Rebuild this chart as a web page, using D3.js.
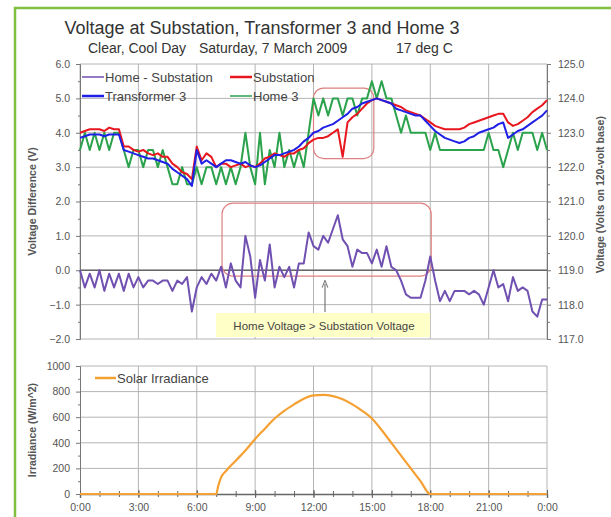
<!DOCTYPE html>
<html>
<head>
<meta charset="utf-8">
<script src="https://cdn.jsdelivr.net/npm/d3@7"></script>
<style>
  body { margin: 0; background: #fff; }
  svg text { font-family: "Liberation Sans", Arial, sans-serif; }
</style>
</head>
<body>
<div id="chart"></div>
<script>
// sample times, every 15 minutes from 0:00 to 24:00
const hours = d3.range(97).map(i => i / 4);

// Substation voltage (V, right axis)
const substation = [
  123.0, 123.05, 123.1, 123.1, 123.1, 123.05, 123.15, 123.1, 123.1, 122.6, 122.6, 122.5,
  122.45, 122.5, 122.4, 122.35, 122.4, 122.3, 122.3, 122.1, 122.0, 121.85, 121.8, 121.65,
  122.6, 122.2, 122.4, 122.3, 122.0, 122.1, 122.1, 122.0, 122.05, 122.1, 122.0, 122.05,
  122.0, 122.1, 122.25, 122.3, 122.4, 122.35, 122.3, 122.4, 122.4, 122.5, 122.55, 122.7,
  122.8, 122.85, 122.85, 122.9, 123.0, 123.1, 122.3, 123.3, 123.45, 123.55, 123.7, 123.85,
  123.95, 124.0, 123.95, 123.9, 123.85, 123.8, 123.75, 123.65, 123.6, 123.55, 123.5, 123.4,
  123.3, 123.2, 123.15, 123.1, 123.1, 123.1, 123.1, 123.15, 123.25, 123.3, 123.35, 123.4,
  123.45, 123.5, 123.55, 123.55, 123.3, 123.2, 123.25, 123.35, 123.45, 123.6, 123.7, 123.8,
  123.95
];

// Transformer 3 voltage (V, right axis)
const transformer = [
  122.85, 122.9, 122.95, 122.95, 122.95, 122.9, 122.95, 122.95, 122.95, 122.5, 122.45, 122.4,
  122.35, 122.3, 122.25, 122.25, 122.2, 122.15, 122.1, 121.95, 121.85, 121.75, 121.65, 121.45,
  122.5, 122.1, 122.2, 122.1, 122.0, 122.1, 122.2, 122.2, 122.15, 122.1, 122.15, 122.05,
  122.0, 122.05, 122.15, 122.25, 122.35, 122.35, 122.4, 122.45, 122.5, 122.6, 122.75, 122.85,
  123.0, 123.05, 123.15, 123.2, 123.25, 123.35, 123.45, 123.55, 123.7, 123.75, 123.85, 123.9,
  123.95, 124.0, 123.95, 123.9, 123.85, 123.7, 123.65, 123.6, 123.55, 123.5, 123.5, 123.35,
  123.2, 123.05, 122.95, 122.85, 122.8, 122.75, 122.7, 122.75, 122.85, 122.9, 123.0, 123.05,
  123.1, 123.15, 123.25, 123.3, 122.85, 122.95, 123.05, 123.1, 123.2, 123.3, 123.4, 123.5,
  123.65
];

// Home 3 voltage (V, right axis)
const home = [
  122.5, 123.0, 122.5, 123.0, 122.5, 123.0, 122.5, 123.0, 123.0, 122.5, 122.0, 122.5,
  122.5, 122.0, 122.5, 122.5, 122.0, 122.5, 122.0, 121.5, 121.5, 122.0, 121.5, 121.5,
  122.0, 121.5, 122.0, 122.0, 121.5, 122.0, 121.5, 122.0, 121.5, 122.0, 123.0, 122.0,
  121.5, 123.0, 121.5, 122.5, 122.0, 123.0, 122.0, 122.5, 122.0, 122.5, 122.0, 123.0,
  124.0, 123.5, 124.0, 123.5, 124.0, 124.0, 123.5, 124.0, 124.0, 123.5, 124.0, 124.0,
  124.5, 124.0, 124.5, 124.0, 124.0, 123.5, 123.0, 123.5, 123.0, 123.0, 123.0, 123.0,
  122.5, 123.0, 122.5, 122.5, 122.5, 122.5, 122.5, 122.5, 122.5, 122.5, 122.5, 122.5,
  123.0, 122.5, 122.5, 122.0, 122.5, 123.0, 122.5, 123.0, 123.0, 123.0, 122.5, 123.0,
  122.5
];

// Home - Substation (V, left axis)
const diff = [
  0.0, -0.5, -0.1, -0.5, 0.0, -0.6, -0.1, -0.5, -0.1, -0.6, -0.1, -0.5,
  -0.2, -0.5, -0.3, -0.3, -0.4, -0.3, -0.3, -0.6, -0.3, -0.4, -0.2, -1.2,
  -0.5, -0.2, -0.4, -0.1, -0.3, 0.1, -0.5, 0.2, -0.3, -0.5, 1.0, 0.4,
  -0.8, 0.3, -0.3, 0.75, -0.5, 0.1, -0.2, 0.1, -0.5, 0.2, 0.2, 1.1,
  0.7, 0.6, 1.0, 0.8, 1.2, 1.6, 0.9, 0.7, 0.1, 0.6, 0.5, 0.5,
  0.2, 0.6, 0.1, 0.7, 0.1, 0.0, -0.3, -0.7, -0.8, -0.8, -0.8, -0.3,
  0.4, -0.3, -0.9, -0.6, -0.9, -0.6, -0.6, -0.6, -0.7, -0.6, -0.7, -1.0,
  -0.5, 0.0, -0.5, -0.4, -0.9, -0.2, -0.6, -0.5, -0.6, -1.2, -1.35, -0.85,
  -0.85
];

// Solar irradiance (W/m^2)
const solarHours = [0, 7.0, 7.1, 7.25, 7.5, 8, 8.5, 9, 9.5, 10, 10.5, 11, 11.5, 12, 12.5,
  13, 13.5, 14, 14.5, 15, 15.5, 16, 16.5, 17, 17.5, 18, 24];
const solarValues = [0, 0, 60, 130, 180, 260, 340, 430, 510, 590, 650, 700, 745, 770, 775,
  765, 740, 700, 650, 590, 500, 400, 300, 200, 100, 0, 0];

const xTicks = [0, 3, 6, 9, 12, 15, 18, 21, 24];
const xTickLabels = ["0:00", "3:00", "6:00", "9:00", "12:00", "15:00", "18:00", "21:00", "0:00"];
const leftTicks = [-2, -1, 0, 1, 2, 3, 4, 5, 6];
const rightTicks = [117, 118, 119, 120, 121, 122, 123, 124, 125];
const solarTicks = [0, 200, 400, 600, 800, 1000];

const W = 611, H = 517;
const gridColor = "#b4b4b4";
const axisColor = "#777";
const textColor = "#555";
const tickFont = "10.5px";

const svg = d3.select("#chart").append("svg")
  .attr("width", W)
  .attr("height", H);

svg.append("rect").attr("width", W).attr("height", H).attr("fill", "#fff");

// green frame
svg.append("rect")
  .attr("x", 15).attr("y", 8)
  .attr("width", 700).attr("height", 600)
  .attr("fill", "none")
  .attr("stroke", "#80c040")
  .attr("stroke-width", 2.5);

const x = d3.scaleLinear().domain([0, 24]).range([80, 547]);
const yL = d3.scaleLinear().domain([-2, 6]).range([339, 64]);
const yR = d3.scaleLinear().domain([117, 125]).range([339, 64]);
const yS = d3.scaleLinear().domain([0, 1000]).range([494, 366]);

// titles
svg.append("text")
  .attr("x", 262).attr("y", 34)
  .attr("text-anchor", "middle")
  .attr("font-size", "18px")
  .attr("fill", "#333")
  .text("Voltage at Substation, Transformer 3 and Home 3");

const sub = svg.append("g").attr("font-size", "14px").attr("fill", "#333");
sub.append("text").attr("x", 88).attr("y", 53).text("Clear, Cool Day");
sub.append("text").attr("x", 199).attr("y", 53).text("Saturday, 7 March 2009");
sub.append("text").attr("x", 396).attr("y", 53).text("17 deg C");

// ---------- top chart ----------
const topG = svg.append("g");

// grid
topG.append("g").selectAll("line").data(leftTicks).join("line")
  .attr("x1", x(0)).attr("x2", x(24))
  .attr("y1", d => yL(d)).attr("y2", d => yL(d))
  .attr("stroke", gridColor).attr("stroke-width", 1);
topG.append("g").selectAll("line").data(xTicks).join("line")
  .attr("x1", d => x(d)).attr("x2", d => x(d))
  .attr("y1", yL(6)).attr("y2", yL(-2))
  .attr("stroke", gridColor).attr("stroke-width", 1);

// left axis
const leftAxis = d3.axisLeft(yL).tickValues(leftTicks).tickFormat(d3.format(".1f")).tickSize(4).tickPadding(6);
const gl = topG.append("g").attr("transform", `translate(${x(0)},0)`).call(leftAxis);
gl.select(".domain").attr("stroke", axisColor);
gl.selectAll(".tick line").attr("stroke", axisColor);
gl.selectAll("text").attr("fill", textColor).attr("font-size", tickFont)
  .attr("font-family", "Liberation Sans, Arial, sans-serif");
topG.append("g").attr("transform", `translate(${x(0)},0)`)
  .call(d3.axisLeft(yL).tickValues(d3.range(-1.5, 6, 1)).tickSize(2).tickFormat(""))
  .call(g => g.select(".domain").remove())
  .selectAll("line").attr("stroke", axisColor);

// right axis
const rightAxis = d3.axisRight(yR).tickValues(rightTicks).tickFormat(d3.format(".1f")).tickSize(4).tickPadding(7);
const gr = topG.append("g").attr("transform", `translate(${x(24)},0)`).call(rightAxis);
gr.select(".domain").attr("stroke", axisColor);
gr.selectAll(".tick line").attr("stroke", axisColor);
gr.selectAll("text").attr("fill", textColor).attr("font-size", tickFont)
  .attr("font-family", "Liberation Sans, Arial, sans-serif");
topG.append("g").attr("transform", `translate(${x(24)},0)`)
  .call(d3.axisRight(yR).tickValues(d3.range(117.5, 125, 1)).tickSize(3).tickFormat(""))
  .call(g => g.select(".domain").remove())
  .selectAll("line").attr("stroke", axisColor);

// zero axis
topG.append("line")
  .attr("x1", x(0)).attr("x2", x(24))
  .attr("y1", yL(0)).attr("y2", yL(0))
  .attr("stroke", "#666").attr("stroke-width", 1.6);

// axis titles
svg.append("text")
  .attr("transform", `translate(36,${yL(2)}) rotate(-90)`)
  .attr("text-anchor", "middle")
  .attr("font-size", "10.5px")
  .attr("font-weight", "bold")
  .attr("fill", "#555")
  .text("Voltage Difference (V)");
svg.append("text")
  .attr("transform", `translate(604,${yR(121.2)}) rotate(-90)`)
  .attr("text-anchor", "middle")
  .attr("font-size", "10.5px")
  .attr("font-weight", "bold")
  .attr("fill", "#555")
  .text("Voltage (Volts on 120-volt base)");

// annotation boxes
topG.append("rect")
  .attr("x", x(12)).attr("y", yR(124.3))
  .attr("width", x(15.1) - x(12)).attr("height", yR(122.25) - yR(124.3))
  .attr("rx", 10)
  .attr("fill", "none").attr("stroke", "#e08080").attr("stroke-width", 1.2);
topG.append("rect")
  .attr("x", x(7.3)).attr("y", yL(1.95))
  .attr("width", x(18.05) - x(7.3)).attr("height", yL(-0.17) - yL(1.95))
  .attr("rx", 11)
  .attr("fill", "none").attr("stroke", "#e08080").attr("stroke-width", 1.2);

// lines
const lineR = d3.line().x((d, i) => x(hours[i])).y(d => yR(d));
const lineL = d3.line().x((d, i) => x(hours[i])).y(d => yL(d));

const series = [
  { values: home, color: "#2ba24c", gen: lineR },
  { values: substation, color: "#e8161e", gen: lineR },
  { values: transformer, color: "#1f1fe6", gen: lineR },
  { values: diff, color: "#7050b0", gen: lineL }
];
topG.append("g").selectAll("path").data(series).join("path")
  .attr("d", d => d.gen(d.values))
  .attr("fill", "none")
  .attr("stroke", d => d.color)
  .attr("stroke-width", 2)
  .attr("stroke-linejoin", "round");

// callout
topG.append("rect")
  .attr("x", 216).attr("y", 313)
  .attr("width", 214).attr("height", 24)
  .attr("fill", "#ffffc8");
topG.append("text")
  .attr("x", 324).attr("y", 329.5)
  .attr("text-anchor", "middle")
  .attr("font-size", "11.5px")
  .attr("fill", "#444")
  .text("Home Voltage > Substation Voltage");
svg.append("defs").append("marker")
  .attr("id", "arrow")
  .attr("viewBox", "0 0 10 10")
  .attr("refX", 5).attr("refY", 5)
  .attr("markerWidth", 6).attr("markerHeight", 6)
  .attr("orient", "auto")
  .append("path")
  .attr("d", "M0,1 L10,5 L0,9")
  .attr("fill", "none").attr("stroke", "#777").attr("stroke-width", 1.5);
topG.append("line")
  .attr("x1", 325).attr("x2", 325)
  .attr("y1", 312).attr("y2", 284)
  .attr("stroke", "#777").attr("stroke-width", 1.2)
  .attr("marker-end", "url(#arrow)");

// legend
const legendTop = [
  { name: "Home - Substation", color: "#7050b0", lx: 82, ly: 77, w: 1.5 },
  { name: "Substation", color: "#e8161e", lx: 230, ly: 77, w: 2.5 },
  { name: "Transformer 3", color: "#1f1fe6", lx: 82, ly: 96, w: 2.5 },
  { name: "Home 3", color: "#2ba24c", lx: 230, ly: 96, w: 1.5 }
];
const lg = topG.append("g").selectAll("g").data(legendTop).join("g")
  .attr("transform", d => `translate(${d.lx},${d.ly})`);
lg.append("line").attr("x1", 0).attr("x2", 22)
  .attr("stroke", d => d.color).attr("stroke-width", d => d.w);
lg.append("text").attr("x", 23).attr("y", 4.5)
  .attr("font-size", "13px").attr("fill", "#444")
  .text(d => d.name);

// ---------- bottom chart ----------
const bot = svg.append("g");

bot.append("g").selectAll("line").data(solarTicks.slice(1)).join("line")
  .attr("x1", x(0)).attr("x2", x(24))
  .attr("y1", d => yS(d)).attr("y2", d => yS(d))
  .attr("stroke", gridColor);
bot.append("g").selectAll("line").data(xTicks.slice(1)).join("line")
  .attr("x1", d => x(d)).attr("x2", d => x(d))
  .attr("y1", yS(1000)).attr("y2", yS(0))
  .attr("stroke", gridColor);

const gs = bot.append("g").attr("transform", `translate(${x(0)},0)`)
  .call(d3.axisLeft(yS).tickValues(solarTicks).tickFormat(d3.format("d")).tickSize(4).tickPadding(6));
gs.select(".domain").attr("stroke", axisColor);
gs.selectAll(".tick line").attr("stroke", axisColor);
gs.selectAll("text").attr("fill", textColor).attr("font-size", tickFont)
  .attr("font-family", "Liberation Sans, Arial, sans-serif");
bot.append("g").attr("transform", `translate(${x(0)},0)`)
  .call(d3.axisLeft(yS).tickValues(d3.range(100, 1000, 200)).tickSize(2).tickFormat(""))
  .call(g => g.select(".domain").remove())
  .selectAll("line").attr("stroke", axisColor);

const gx = bot.append("g").attr("transform", `translate(0,${yS(0)})`)
  .call(d3.axisBottom(x).tickValues(xTicks).tickFormat((d, i) => xTickLabels[i]).tickSize(4).tickPadding(6));
gx.select(".domain").attr("stroke", "#666").attr("stroke-width", 1.4);
gx.selectAll(".tick line").attr("stroke", "#666").attr("y1", -4);
gx.selectAll("text").attr("fill", textColor).attr("font-size", tickFont)
  .attr("font-family", "Liberation Sans, Arial, sans-serif");
bot.append("g").attr("transform", `translate(0,${yS(0)})`)
  .call(d3.axisBottom(x).tickValues(d3.range(1, 24, 1)).tickSize(3).tickFormat(""))
  .call(g => g.select(".domain").remove())
  .selectAll("line").attr("stroke", "#666").attr("y1", -3);

svg.append("text")
  .attr("transform", `translate(36,${yS(500)}) rotate(-90)`)
  .attr("text-anchor", "middle")
  .attr("font-size", "10.5px")
  .attr("font-weight", "bold")
  .attr("fill", "#555")
  .text("Irradiance (W/m^2)");

bot.append("path")
  .datum(solarValues)
  .attr("d", d3.line().x((d, i) => x(solarHours[i])).y(d => yS(d)).curve(d3.curveMonotoneX))
  .attr("fill", "none")
  .attr("stroke", "#f5a033")
  .attr("stroke-width", 2.2);

const sl = bot.append("g").attr("transform", "translate(95,378)");
sl.append("line").attr("x1", 0).attr("x2", 21).attr("stroke", "#f5a033").attr("stroke-width", 2.5);
sl.append("text").attr("x", 22).attr("y", 4.5).attr("font-size", "13px").attr("fill", "#444").text("Solar Irradiance");
</script>
</body>
</html>
